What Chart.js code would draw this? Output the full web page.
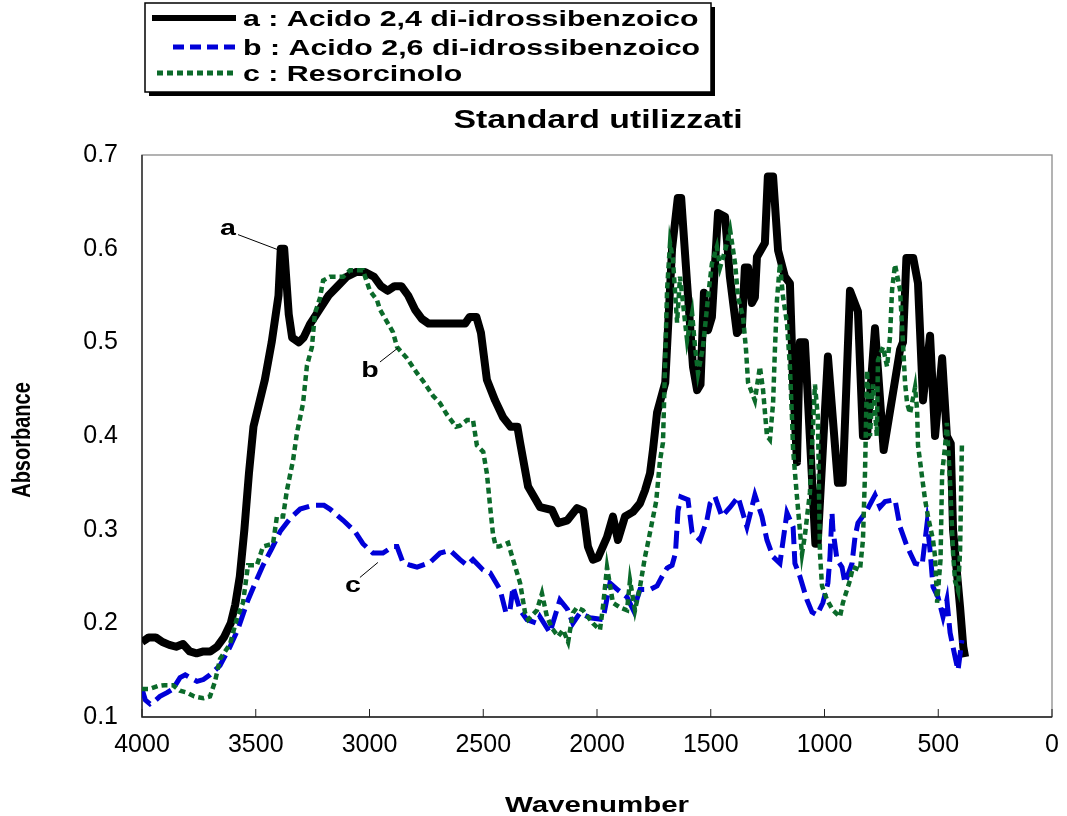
<!DOCTYPE html>
<html>
<head>
<meta charset="utf-8">
<title>Standard utilizzati</title>
<script src="https://cdn.jsdelivr.net/npm/chart.js@4.4.0/dist/chart.umd.min.js"></script>
<style>
  body { margin: 0; background: #fff; }
  #wrap { width: 1067px; height: 816px; }
</style>
</head>
<body>
<div id="wrap"><canvas id="irChart"></canvas></div>
<script>
// Spettri (numero d'onda / assorbanza)
const aWave = [4000, 3970, 3940, 3910, 3880, 3850, 3820, 3790, 3760, 3730, 3700, 3670, 3640, 3610, 3590, 3570, 3550, 3530, 3510, 3490,
  3460, 3430, 3400, 3390, 3375, 3355, 3340, 3310, 3290, 3260, 3220, 3180, 3140, 3100, 3060, 3020, 2980, 2950, 2920, 2890,
  2860, 2830, 2800, 2770, 2740, 2700, 2660, 2620, 2580, 2560, 2530, 2510, 2484, 2448, 2413, 2380, 2350, 2338, 2303, 2250,
  2198, 2171, 2130, 2088, 2060, 2040, 2018, 1996, 1956, 1930, 1908, 1877, 1842, 1811, 1789, 1767, 1754, 1736, 1700, 1670,
  1645, 1630, 1604, 1578, 1560, 1545, 1530, 1512, 1495, 1468, 1437, 1416, 1385, 1363, 1350, 1336, 1319, 1306, 1297, 1262,
  1249, 1226, 1204, 1174, 1152, 1138, 1121, 1108, 1086, 1040, 1030, 985, 941, 920, 888, 853, 831, 813, 778, 740,
  668, 655, 640, 610, 589, 567, 536, 514, 483, 462, 445, 435, 404, 390, 382];
const aAbs = [0.18, 0.185, 0.185, 0.18, 0.177, 0.175, 0.178, 0.17, 0.168, 0.17, 0.17, 0.175, 0.185, 0.2, 0.22, 0.25, 0.3, 0.36, 0.41, 0.43,
  0.46, 0.5, 0.55, 0.6, 0.6, 0.53, 0.505, 0.5, 0.505, 0.52, 0.535, 0.55, 0.56, 0.57, 0.575, 0.575, 0.57, 0.56, 0.555, 0.56,
  0.56, 0.55, 0.535, 0.525, 0.52, 0.52, 0.52, 0.52, 0.52, 0.527, 0.527, 0.51, 0.46, 0.438, 0.42, 0.41, 0.41, 0.393, 0.346, 0.324,
  0.321, 0.307, 0.31, 0.323, 0.32, 0.282, 0.268, 0.27, 0.292, 0.314, 0.289, 0.314, 0.319, 0.328, 0.342, 0.36, 0.385, 0.425, 0.457, 0.6,
  0.654, 0.654, 0.563, 0.474, 0.449, 0.455, 0.553, 0.513, 0.527, 0.638, 0.634, 0.57, 0.51, 0.516, 0.58, 0.58, 0.542, 0.548, 0.591, 0.606,
  0.677, 0.677, 0.598, 0.57, 0.563, 0.457, 0.372, 0.5, 0.5, 0.285, 0.285, 0.485, 0.35, 0.35, 0.555, 0.533, 0.4, 0.4, 0.515, 0.385,
  0.492, 0.5, 0.59, 0.59, 0.563, 0.438, 0.507, 0.4, 0.483, 0.4, 0.392, 0.3, 0.217, 0.175, 0.164];

const bWave = [4000, 3985, 3965, 3940, 3921, 3890, 3864, 3833, 3810, 3789, 3758, 3730, 3701, 3657, 3613, 3578, 3534, 3499, 3468, 3429,
  3393, 3349, 3305, 3248, 3200, 3174, 3116, 3064, 3029, 2985, 2941, 2897, 2879, 2853, 2820, 2791, 2734, 2690, 2646, 2602,
  2571, 2545, 2501, 2470, 2426, 2400, 2382, 2369, 2338, 2308, 2264, 2251, 2207, 2163, 2130, 2106, 2075, 2031, 1974, 1943,
  1905, 1868, 1840, 1811, 1767, 1736, 1714, 1692, 1670, 1655, 1644, 1631, 1600, 1582, 1547, 1517, 1503, 1481, 1451, 1415,
  1380, 1341, 1306, 1275, 1253, 1226, 1196, 1165, 1138, 1130, 1108, 1077, 1055, 1033, 1007, 985, 976, 967, 963, 945,
  923, 910, 879, 866, 853, 813, 778, 756, 734, 690, 668, 637, 602, 571, 549, 536, 523, 501, 479, 462,
  448, 426, 413, 396];
const bAbs = [0.13, 0.118, 0.114, 0.118, 0.122, 0.126, 0.13, 0.142, 0.145, 0.142, 0.138, 0.14, 0.145, 0.155, 0.175, 0.194, 0.225, 0.245, 0.262, 0.28,
  0.298, 0.312, 0.322, 0.326, 0.326, 0.322, 0.31, 0.298, 0.285, 0.275, 0.275, 0.282, 0.282, 0.265, 0.262, 0.26, 0.265, 0.275, 0.278, 0.268,
  0.262, 0.268, 0.257, 0.254, 0.236, 0.211, 0.215, 0.239, 0.214, 0.204, 0.2, 0.207, 0.19, 0.225, 0.215, 0.2, 0.211, 0.206, 0.204, 0.243,
  0.235, 0.228, 0.214, 0.236, 0.236, 0.24, 0.25, 0.259, 0.262, 0.275, 0.32, 0.335, 0.332, 0.297, 0.289, 0.31, 0.328, 0.335, 0.314, 0.324,
  0.335, 0.303, 0.337, 0.314, 0.289, 0.271, 0.264, 0.318, 0.303, 0.264, 0.25, 0.225, 0.212, 0.209, 0.222, 0.243, 0.271, 0.318, 0.3, 0.268,
  0.26, 0.243, 0.264, 0.292, 0.307, 0.321, 0.337, 0.324, 0.33, 0.332, 0.303, 0.282, 0.264, 0.262, 0.307, 0.278, 0.239, 0.228, 0.207, 0.225,
  0.19, 0.164, 0.15, 0.182];

const cWave = [4000, 3965, 3930, 3900, 3864, 3833, 3802, 3770, 3730, 3701, 3679, 3657, 3613, 3582, 3556, 3534, 3495, 3468, 3424, 3407,
  3380, 3363, 3336, 3319, 3292, 3275, 3253, 3240, 3218, 3204, 3174, 3116, 3086, 3029, 2998, 2967, 2954, 2897, 2879, 2835,
  2791, 2765, 2721, 2690, 2660, 2620, 2602, 2571, 2545, 2528, 2500, 2484, 2470, 2457, 2445, 2431, 2391, 2369, 2338, 2316,
  2303, 2264, 2242, 2220, 2198, 2171, 2149, 2127, 2106, 2088, 2062, 2018, 1987, 1974, 1956, 1930, 1899, 1868, 1855, 1833,
  1811, 1789, 1776, 1740, 1723, 1710, 1701, 1692, 1679, 1666, 1648, 1635, 1622, 1604, 1582, 1569, 1556, 1534, 1512, 1495,
  1473, 1459, 1437, 1415, 1393, 1380, 1358, 1345, 1336, 1306, 1284, 1270, 1253, 1240, 1226, 1218, 1209, 1196, 1182, 1165,
  1152, 1143, 1138, 1121, 1099, 1086, 1064, 1042, 1029, 1020, 1011, 989, 963, 932, 919, 888, 875, 844, 831, 822,
  813, 800, 787, 770, 765, 743, 725, 712, 703, 690, 668, 655, 646, 637, 624, 602, 593, 589, 571, 558,
  545, 523, 514, 505, 490, 483, 470, 462, 448, 435, 426, 413, 404, 396];
const cAbs = [0.13, 0.13, 0.133, 0.134, 0.134, 0.128, 0.126, 0.122, 0.12, 0.122, 0.138, 0.162, 0.178, 0.206, 0.222, 0.262, 0.262, 0.282, 0.285, 0.314,
  0.314, 0.342, 0.374, 0.403, 0.435, 0.475, 0.495, 0.531, 0.547, 0.566, 0.57, 0.57, 0.577, 0.577, 0.555, 0.545, 0.535, 0.511, 0.495, 0.483,
  0.467, 0.459, 0.443, 0.435, 0.423, 0.41, 0.411, 0.417, 0.417, 0.39, 0.383, 0.36, 0.325, 0.295, 0.282, 0.282, 0.286, 0.268, 0.243, 0.211,
  0.204, 0.214, 0.232, 0.207, 0.195, 0.186, 0.193, 0.18, 0.211, 0.217, 0.214, 0.2, 0.193, 0.217, 0.26, 0.222, 0.217, 0.214, 0.246, 0.214,
  0.239, 0.271, 0.286, 0.33, 0.374, 0.393, 0.474, 0.556, 0.606, 0.588, 0.521, 0.57, 0.542, 0.502, 0.531, 0.495, 0.467, 0.495, 0.548, 0.584,
  0.602, 0.58, 0.598, 0.62, 0.584, 0.548, 0.527, 0.492, 0.457, 0.438, 0.474, 0.449, 0.4, 0.396, 0.435, 0.492, 0.545, 0.584, 0.548, 0.521,
  0.474, 0.42, 0.385, 0.335, 0.274, 0.294, 0.34, 0.455, 0.42, 0.275, 0.24, 0.225, 0.214, 0.207, 0.222, 0.246, 0.26, 0.257, 0.289, 0.36,
  0.47, 0.4, 0.455, 0.4, 0.481, 0.495, 0.474, 0.506, 0.556, 0.583, 0.556, 0.499, 0.457, 0.435, 0.424, 0.452, 0.428, 0.39, 0.356, 0.332,
  0.314, 0.289, 0.271, 0.222, 0.268, 0.36, 0.389, 0.414, 0.35, 0.275, 0.245, 0.235, 0.278, 0.39];

const xTicks = [4000, 3500, 3000, 2500, 2000, 1500, 1000, 500, 0];
const yTicks = [0.1, 0.2, 0.3, 0.4, 0.5, 0.6, 0.7];
const seriesNames = ["a : Acido 2,4 di-idrossibenzoico", "b : Acido 2,6 di-idrossibenzoico", "c : Resorcinolo"];

// etichette a/b/c con linea di richiamo (coordinate in unita' del grafico)
const notes = [
  { text: "a", at: [3622, 0.622], from: [3578, 0.615], to: [3393, 0.598] },
  { text: "b", at: [2998, 0.47], from: [2954, 0.479], to: [2875, 0.494] },
  { text: "c", at: [3073, 0.241], from: [3042, 0.249], to: [2963, 0.265] },
];

const toPoints = (xs, ys) => xs.map((x, i) => ({ x: x, y: ys[i] }));
const FONT = '"Liberation Sans", Arial, sans-serif';

function wideText(ctx, txt, x, y, font, align, sx) {
  ctx.save();
  ctx.font = font;
  ctx.textAlign = align;
  ctx.textBaseline = "alphabetic";
  ctx.fillStyle = "#000";
  ctx.translate(x, y);
  ctx.scale(sx, 1);
  ctx.fillText(txt, 0, 0);
  ctx.restore();
}

const styles = [
  { color: "#000000", width: 8, dash: [] },
  { color: "#0000d8", width: 5, dash: [18, 7] },
  { color: "#0b6a2a", width: 4.5, dash: [6, 4] },
];

const decor = {
  id: "decor",
  beforeDatasetsDraw(chart) {
    const { ctx, chartArea: a, scales } = chart;
    ctx.save();
    ctx.lineWidth = 1.3;
    ctx.strokeStyle = "#8a8a8a";
    ctx.strokeRect(a.left, a.top, a.right - a.left, a.bottom - a.top);
    ctx.strokeStyle = "#222";
    ctx.beginPath();
    ctx.moveTo(a.left, a.top);
    ctx.lineTo(a.left, a.bottom);
    ctx.lineTo(a.right, a.bottom);
    ctx.stroke();
    // tacche interne asse x
    ctx.lineWidth = 1;
    xTicks.forEach((v) => {
      const px = scales.x.getPixelForValue(v);
      ctx.beginPath();
      ctx.moveTo(px, a.bottom);
      ctx.lineTo(px, a.bottom - 8);
      ctx.stroke();
    });
    ctx.restore();
  },
  afterDraw(chart) {
    const { ctx, scales } = chart;
    ctx.save();

    // legenda con ombra
    ctx.fillStyle = "#000";
    ctx.fillRect(149, 7, 566, 89);
    ctx.fillStyle = "#fff";
    ctx.fillRect(145, 3, 566, 89);
    ctx.lineWidth = 1.5;
    ctx.strokeStyle = "#000";
    ctx.strokeRect(145, 3, 566, 89);
    const rows = [18, 47, 73];
    const starts = [152, 173, 157];
    seriesNames.forEach((name, i) => {
      ctx.save();
      ctx.strokeStyle = styles[i].color;
      ctx.lineWidth = i === 0 ? 6 : 5;
      ctx.setLineDash(i === 1 ? [11, 6] : styles[i].dash);
      ctx.beginPath();
      ctx.moveTo(starts[i], rows[i]);
      ctx.lineTo(236, rows[i]);
      ctx.stroke();
      ctx.restore();
      wideText(ctx, name, 243, rows[i] + 8, "bold 22px " + FONT, "left", 1.38);
    });

    // titolo e assi
    wideText(ctx, "Standard utilizzati", 598, 128, "bold 26px " + FONT, "center", 1.3);
    wideText(ctx, "Wavenumber", 597, 812, "bold 22px " + FONT, "center", 1.34);
    ctx.save();
    ctx.translate(30, 440);
    ctx.scale(1.25, 1);
    ctx.rotate(-Math.PI / 2);
    ctx.font = "bold 20px " + FONT;
    ctx.textAlign = "center";
    ctx.fillStyle = "#000";
    ctx.fillText("Absorbance", 0, 0);
    ctx.restore();

    // richiami a, b, c
    notes.forEach((n) => {
      const x1 = scales.x.getPixelForValue(n.from[0]);
      const y1 = scales.y.getPixelForValue(n.from[1]);
      const x2 = scales.x.getPixelForValue(n.to[0]);
      const y2 = scales.y.getPixelForValue(n.to[1]);
      ctx.strokeStyle = "#000";
      ctx.lineWidth = 1;
      ctx.beginPath();
      ctx.moveTo(x1, y1);
      ctx.lineTo(x2, y2);
      ctx.stroke();
      wideText(ctx, n.text, scales.x.getPixelForValue(n.at[0]), scales.y.getPixelForValue(n.at[1]) + 7,
        "bold 22px " + FONT, "center", 1.3);
    });
    ctx.restore();
  },
};

const ctx = document.getElementById("irChart").getContext("2d");
new Chart(ctx, {
  type: "line",
  data: {
    datasets: [
      { label: seriesNames[0], data: toPoints(aWave, aAbs), order: 3, borderJoinStyle: "round" },
      { label: seriesNames[1], data: toPoints(bWave, bAbs), order: 2 },
      { label: seriesNames[2], data: toPoints(cWave, cAbs), order: 1 },
    ].map((d, i) =>
      Object.assign(d, {
        borderColor: styles[i].color,
        borderWidth: styles[i].width,
        borderDash: styles[i].dash,
        pointRadius: 0,
        fill: false,
        tension: 0,
      })
    ),
  },
  options: {
    responsive: true,
    maintainAspectRatio: false,
    animation: false,
    layout: { padding: { top: 155, right: 15, left: 0, bottom: 0 } },
    plugins: {
      legend: { display: false },
      title: { display: false },
      tooltip: { enabled: false },
    },
    scales: {
      x: {
        type: "linear",
        reverse: true,
        min: 0,
        max: 4000,
        afterBuildTicks: (s) => { s.ticks = xTicks.map((v) => ({ value: v })); },
        afterFit: (s) => { s.height = 99; s.paddingLeft = 0; s.paddingRight = 0; },
        grid: { display: false, drawTicks: false },
        border: { display: false },
        ticks: {
          color: "#000",
          font: { family: FONT, size: 25 },
          padding: 13,
          maxRotation: 0,
          autoSkip: false,
          callback: (v) => String(v),
        },
      },
      y: {
        min: 0.1,
        max: 0.7,
        afterBuildTicks: (s) => { s.ticks = yTicks.map((v) => ({ value: v })); },
        afterFit: (s) => { s.width = 142; s.paddingTop = 0; s.paddingBottom = 0; },
        grid: { display: false, drawTicks: false },
        border: { display: false },
        ticks: {
          color: "#000",
          font: { family: FONT, size: 25 },
          padding: 24,
          callback: (v) => Number(v).toFixed(1),
        },
      },
    },
  },
  plugins: [decor],
});
</script>
</body>
</html>
